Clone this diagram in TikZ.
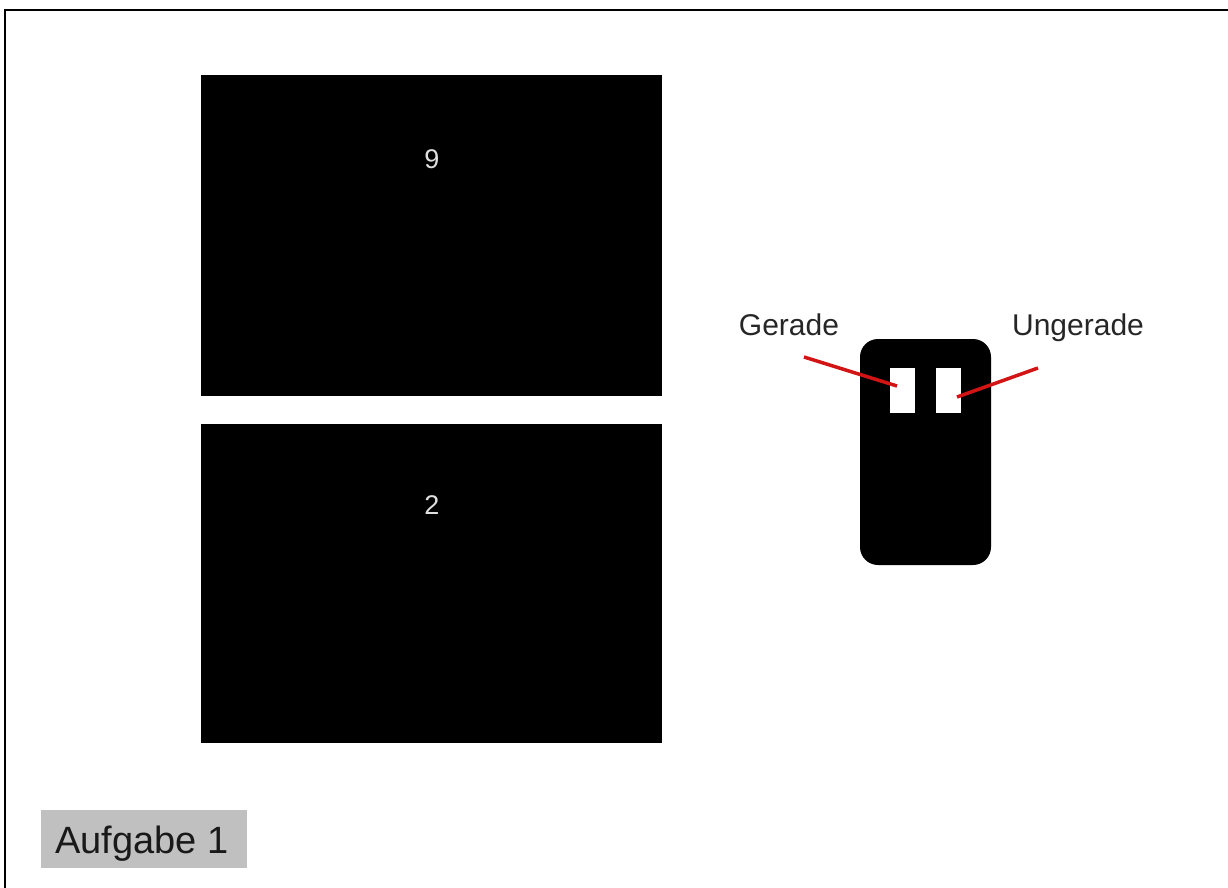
\documentclass[tikz,border=0pt]{standalone}
\usepackage{fontspec}
\setmainfont{Liberation Sans}
\begin{document}
\begin{tikzpicture}[x=1pt,y=-1pt,
  blackbox/.style={fill=black,draw=none,inner sep=0pt,minimum width=461pt,minimum height=321pt},
  win/.style={fill=white,draw=none,inner sep=0pt,minimum width=25pt,minimum height=45pt},
  lbl/.style={inner sep=0pt,anchor=base,text=black!85,font=\fontsize{30}{32}\selectfont},
  num/.style={inner sep=0pt,anchor=base,text=white!88!black,font=\fontsize{27}{29}\selectfont},
  pointer/.style={draw={rgb,255:red,210;green,20;blue,20},line width=3.5pt}]
\useasboundingbox (0,0) rectangle (1228,888);
\draw[line width=2pt] (5,888) -- (5,10) -- (1228,10);
\node[blackbox] (top) at (431.5,235.5) {};
\node[blackbox,minimum height=319pt] (bot) at (431.5,583.5) {};
\node[num] (n9) at (432,168) {9};
\node[num] (n2) at (432,514) {2};
\node[fill=black,draw=none,rounded corners=18pt,inner sep=0pt,minimum width=131pt,minimum height=226pt] (remote) at (925.5,452) {};
\node[win] (wl) at (902.5,390.5) {};
\node[win] (wr) at (948.5,390.5) {};
\node[lbl] (ger) at (789,335) {Gerade};
\node[lbl] (unger) at (1078,335) {Ungerade};
\coordinate (gs) at (804,357);
\coordinate (ge) at (897,386);
\coordinate (us) at (1038,368);
\coordinate (ue) at (957,397);
\draw[pointer] (gs) -- (ge);
\draw[pointer] (us) -- (ue);
\node[fill={rgb,255:red,192;green,192;blue,192},inner sep=0pt,minimum width=206pt,minimum height=58pt] (auf) at (144,839) {};
\node[inner sep=0pt,anchor=base west,text=black!90,font=\fontsize{38}{40}\selectfont] (auft) at (55,853) {Aufgabe 1};
\end{tikzpicture}
\end{document}
